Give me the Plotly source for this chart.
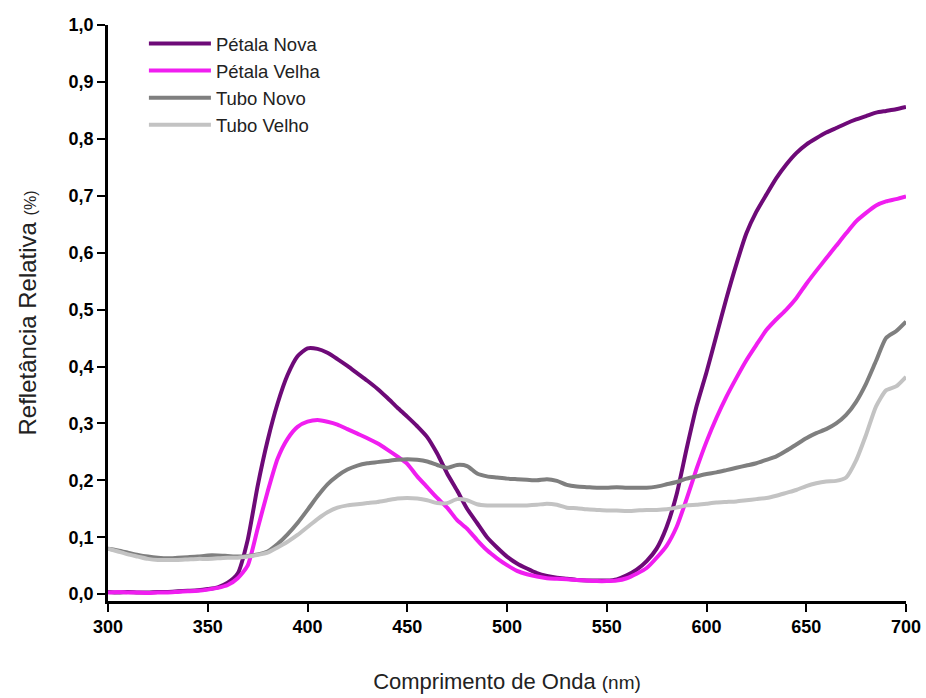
import plotly.graph_objects as go

# Wavelength grid (nm)
wavelength = list(range(300, 705, 5))

# Relative reflectance per sample
petala_nova = [
    0.004, 0.003, 0.004, 0.003, 0.003, 0.004, 0.004, 0.005, 0.006, 0.007,
    0.009, 0.012, 0.020, 0.036, 0.095, 0.190, 0.270, 0.335, 0.385, 0.418,
    0.432, 0.431, 0.424, 0.413, 0.401, 0.388, 0.375, 0.361, 0.345, 0.328,
    0.312, 0.295, 0.276, 0.247, 0.212, 0.182, 0.150, 0.125, 0.100, 0.082,
    0.066, 0.054, 0.045, 0.037, 0.032, 0.029, 0.027, 0.025, 0.024, 0.024,
    0.024, 0.026, 0.033, 0.043, 0.058, 0.080, 0.118, 0.175, 0.255, 0.330,
    0.390, 0.455, 0.520, 0.580, 0.634, 0.672, 0.702, 0.731, 0.755, 0.775,
    0.790, 0.801, 0.811, 0.819, 0.827, 0.834, 0.840, 0.846, 0.849, 0.852,
    0.856,
]
petala_velha = [
    0.003, 0.004, 0.003, 0.003, 0.002, 0.003, 0.003, 0.004, 0.005, 0.006,
    0.008, 0.011, 0.016, 0.028, 0.050, 0.115, 0.180, 0.238, 0.273, 0.294,
    0.303, 0.306, 0.303, 0.298, 0.290, 0.282, 0.274, 0.265, 0.254, 0.242,
    0.229, 0.207, 0.188, 0.169, 0.152, 0.130, 0.115, 0.095, 0.077, 0.063,
    0.051, 0.041, 0.035, 0.031, 0.028, 0.027, 0.026, 0.025, 0.024, 0.023,
    0.023, 0.024, 0.028, 0.036, 0.046, 0.064, 0.085, 0.118, 0.167, 0.220,
    0.268, 0.310, 0.347, 0.380, 0.411, 0.438, 0.464, 0.483, 0.500, 0.520,
    0.545, 0.568, 0.590, 0.612, 0.634, 0.655, 0.670, 0.683, 0.690, 0.694,
    0.699,
]
tubo_novo = [
    0.080, 0.077, 0.073, 0.069, 0.066, 0.064, 0.063, 0.064, 0.065, 0.066,
    0.068, 0.068, 0.067, 0.066, 0.067, 0.070, 0.075, 0.088, 0.105, 0.125,
    0.148, 0.172, 0.193, 0.208, 0.219, 0.226, 0.230, 0.232, 0.234, 0.236,
    0.237, 0.236, 0.233, 0.227, 0.222, 0.227, 0.225, 0.212, 0.207, 0.205,
    0.203, 0.202, 0.201, 0.200, 0.202, 0.199, 0.192, 0.189, 0.188, 0.187,
    0.187, 0.188, 0.187, 0.187, 0.187, 0.189, 0.193, 0.197, 0.203, 0.207,
    0.211, 0.214, 0.218, 0.222, 0.226, 0.230, 0.236, 0.242, 0.252, 0.263,
    0.274, 0.283, 0.290, 0.300, 0.315, 0.338, 0.370, 0.410, 0.450, 0.462,
    0.479,
]
tubo_velho = [
    0.080, 0.075, 0.070, 0.066, 0.062, 0.060, 0.060, 0.060, 0.061, 0.062,
    0.062, 0.063, 0.064, 0.064, 0.066, 0.069, 0.073, 0.082, 0.092, 0.104,
    0.118, 0.132, 0.144, 0.152, 0.156, 0.158, 0.160, 0.162, 0.165, 0.168,
    0.169, 0.168, 0.165, 0.160, 0.160, 0.167, 0.165, 0.158, 0.156, 0.156,
    0.156, 0.156, 0.156, 0.157, 0.159, 0.157, 0.152, 0.151, 0.149, 0.148,
    0.147, 0.147, 0.146, 0.147, 0.148, 0.148, 0.149, 0.152, 0.156, 0.157,
    0.159, 0.161, 0.162, 0.163, 0.165, 0.167, 0.169, 0.173, 0.178, 0.183,
    0.190, 0.195, 0.198, 0.199, 0.205, 0.235, 0.280, 0.330, 0.358, 0.365,
    0.382,
]

series = [
    ("Pétala Nova", petala_nova, "#6E0A78"),
    ("Pétala Velha", petala_velha, "#F01EF0"),
    ("Tubo Novo", tubo_novo, "#7F7F7F"),
    ("Tubo Velho", tubo_velho, "#C3C3C3"),
]

x_ticks = [300, 350, 400, 450, 500, 550, 600, 650, 700]
y_ticks = [0.0, 0.1, 0.2, 0.3, 0.4, 0.5, 0.6, 0.7, 0.8, 0.9, 1.0]

fig = go.Figure()
for name, values, color in series:
    fig.add_trace(go.Scatter(
        x=wavelength, y=values, name=name, mode="lines",
        line=dict(color=color, width=4, shape="spline", smoothing=0.6),
    ))

fig.update_layout(
    width=926, height=698,
    margin=dict(l=108, r=20, t=25, b=97, autoexpand=False),
    paper_bgcolor="white", plot_bgcolor="white",
    separators=",.",
    font=dict(family="Liberation Sans, Arial, sans-serif", color="black"),
    showlegend=True,
    legend=dict(
        x=0.045, y=1.0, xanchor="left", yanchor="top",
        bgcolor="rgba(0,0,0,0)", borderwidth=0,
        font=dict(size=18.5, color="#222222", family="Liberation Sans, Arial, sans-serif"),
        itemwidth=62, tracegroupgap=0,
    ),
    xaxis=dict(
        range=[300, 700], tickvals=x_ticks, automargin=False,
        showline=True, linecolor="black", linewidth=2.5,
        ticks="outside", ticklen=8, tickwidth=2, tickcolor="black",
        showgrid=False, zeroline=False,
        tickfont=dict(size=18, weight="bold", color="black"),
        title=dict(
            text="Comprimento de Onda <span style='font-size:19px'>(nm)</span>",
            font=dict(size=22, color="#222222"), standoff=38,
        ),
    ),
    yaxis=dict(
        range=[-0.012, 1.0], tickvals=y_ticks, tickformat=".1f", automargin=False,
        showline=True, linecolor="black", linewidth=2.5,
        ticks="outside", ticklen=8, tickwidth=2, tickcolor="black",
        showgrid=False, zeroline=False,
        tickfont=dict(size=18, weight="bold", color="black"),
        title=dict(
            text="Refletância Relativa <span style='font-size:16px'>(%)</span>",
            font=dict(size=24, color="#222222"), standoff=26,
        ),
    ),
)

fig.write_html("out.html")
